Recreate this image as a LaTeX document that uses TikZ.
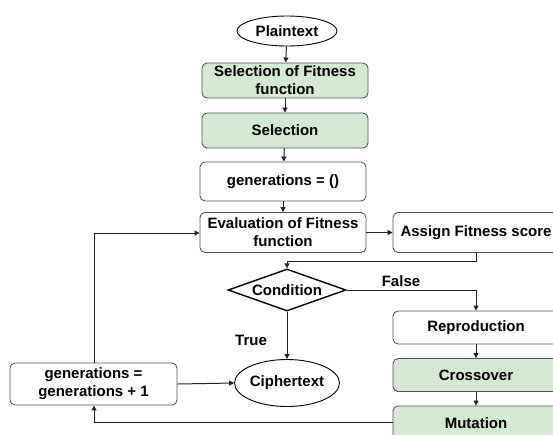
\documentclass[tikz,border=0pt]{standalone}
\usepackage{fontspec}
\setmainfont{Liberation Sans}
\usetikzlibrary{shapes.geometric,arrows.meta}
\definecolor{boxgreen}{HTML}{D5E8D4}
\definecolor{boxline}{HTML}{555555}
\definecolor{wire}{HTML}{222222}
\begin{document}
\begin{tikzpicture}[x=1pt,y=-1pt,
  font=\fontsize{15}{18}\selectfont\bfseries,
  box/.style={draw=boxline,line width=0.9pt,rounded corners=5pt,fill=white,
    minimum width=#1,align=center,inner sep=1pt},
  box/.default=166pt,
  gbox/.style={box=#1,fill=boxgreen},
  gbox/.default=166pt,
  oval/.style={draw=black,line width=0.9pt,ellipse,fill=white,inner sep=0pt},
  decide/.style={draw=black,line width=1.4pt,diamond,aspect=2.8,inner sep=0pt,
    minimum width=118pt,minimum height=42pt},
  flow/.style={draw=wire,line width=1pt,-{Triangle[length=5pt,width=5pt]}},
  lbl/.style={inner sep=0pt}]
\useasboundingbox (0,0) rectangle (553,434);

% main column
\node[oval,minimum width=100pt,minimum height=30pt] (plain) at (287,31) {Plaintext};
\node[gbox,minimum height=35pt] (sff) at (285,80.5) {Selection of Fitness\\function};
\node[gbox,minimum height=35pt] (sel) at (285,130.5) {Selection};
\node[box,minimum height=39pt] (gen) at (283,181.5) {generations = ()};
\node[box,minimum height=40pt] (eval) at (283,232.5) {Evaluation of Fitness\\function};
\node[box=166pt,minimum height=40pt] (assign) at (476,232.5) {Assign Fitness score};
\node[decide] (cond) at (287,290) {Condition};

% right column
\node[box=166pt,minimum height=33pt] (repro) at (476,327.5) {Reproduction};
\node[gbox=166pt,minimum height=33pt] (cross) at (476,375) {Crossover};
\node[gbox=166pt,minimum height=34pt] (mut) at (476,423) {Mutation};

% bottom row
\node[oval,minimum width=102pt,minimum height=47pt] (cipher) at (287,383) {Ciphertext};
\node[box=167pt,minimum height=42pt] (geninc) at (93.5,384) {generations =\\generations + 1};

% helper points for the bends
\coordinate (aBend) at (476,261);
\coordinate (cBend) at (287,261);
\coordinate (fBend) at (476,290);
\coordinate (mBend) at (94,422);
\coordinate (gBend) at (94,233);

% connectors
\draw[flow] (plain) -- (sff);
\draw[flow] (sff) -- (sel);
\draw[flow] (sel) -- (gen);
\draw[flow] (gen) -- (eval);
\draw[flow] (eval) -- (assign);
\draw[flow] (assign.south) -- (aBend) -- (cBend) -- (cond.north);
\draw[flow] (cond.east) -- (fBend) -- (repro.north);
\draw[flow] (cond.south) -- (cipher.north);
\draw[flow] (repro) -- (cross);
\draw[flow] (cross) -- (mut);
\draw[flow] (geninc.east) -- (cipher.west);
\draw[flow] (mut.west |- mBend) -- (mBend) -- (geninc.south -| mBend);
\draw[flow] (geninc.north -| gBend) -- (gBend) -- (eval.west |- gBend);

% branch labels
\node[lbl] (falseLbl) at (401,281) {False};
\node[lbl] (trueLbl) at (251,340) {True};
\end{tikzpicture}
\end{document}
